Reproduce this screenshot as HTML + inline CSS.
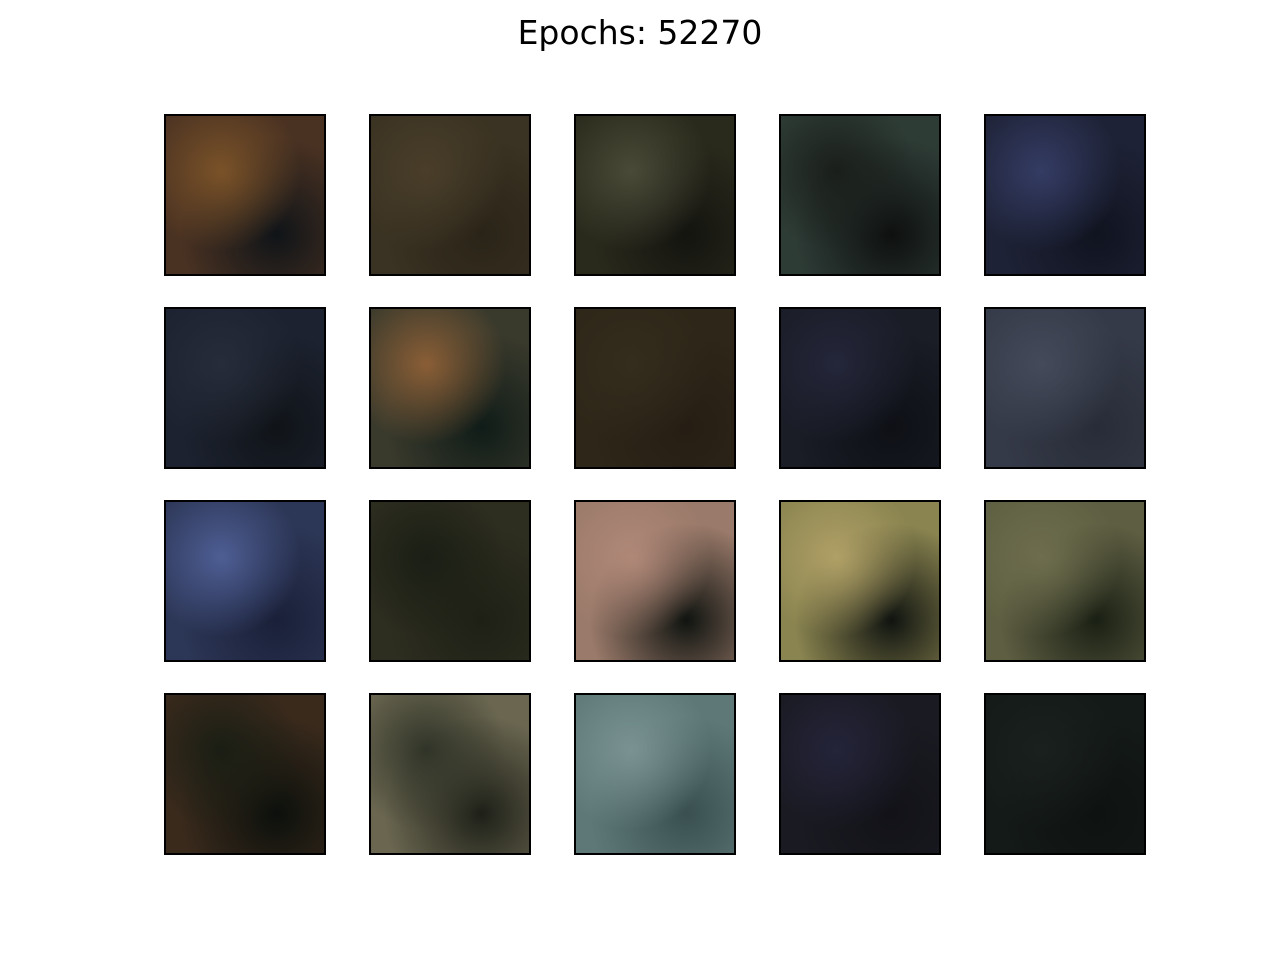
<!DOCTYPE html>
<html><head><meta charset="utf-8"><style>
html,body{margin:0;padding:0;background:#fff;}
#fig{position:relative;width:1280px;height:960px;background:#fff;overflow:hidden;}
#title{position:absolute;left:0;width:1280px;top:13px;text-align:center;font-family:"DejaVu Sans","Liberation Sans",sans-serif;font-size:33px;color:#000;}
.tile{position:absolute;width:162px;height:162px;border:2px solid #000;box-sizing:border-box;}
</style></head><body>
<div id="fig">
<div id="title">Epochs: 52270</div>
</div>
<script>
const colX=[164,369,574,779,984];
const rowY=[114,307,500,693];
const tileBase=["#4a3222","#3a3222","#2a2a1c","#2e3c36","#1e2236",
"#1c2230","#3a3a2c","#2e2618","#1a1c26","#353a48",
"#2c3656","#2e2e20","#9a7a6a","#8a8450","#5e5e42",
"#3a2a1c","#6a6650","#5e7878","#1a1a22","#141a18"];
const tileAccent=["#7a5228","#4a3e2a","#4a4a38","#1a1e1a","#343c64",
"#262c3a","#8a5e36","#342c1c","#24263a","#444a5a",
"#4e5e94","#1a1e14","#b08878","#b0a066","#6e6e4e",
"#1a1e14","#303428","#7a9292","#24243a","#1a201e"];
const tileShade=["#101418","#2a2418","#141410","#0e1010","#101420",
"#101418","#101c18","#261e14","#0e1016","#282c38",
"#1a2038","#1e2016","#101410","#101410","#1a2014",
"#0c100c","#1e2018","#3a5050","#121218","#0e1210"];
const fig=document.getElementById('fig');
for(let i=0;i<20;i++){
  const d=document.createElement('div');
  d.className='tile';
  
  
  d.style.left=colX[i%5]+'px';
  d.style.top=rowY[Math.floor(i/5)]+'px';
  d.style.background=`radial-gradient(circle at 35% 35%, ${tileAccent[i]} 0%, transparent 55%), radial-gradient(circle at 70% 75%, ${tileShade[i]} 0%, transparent 60%), ${tileBase[i]}`;
  fig.appendChild(d);
}
</script>
</body></html>
